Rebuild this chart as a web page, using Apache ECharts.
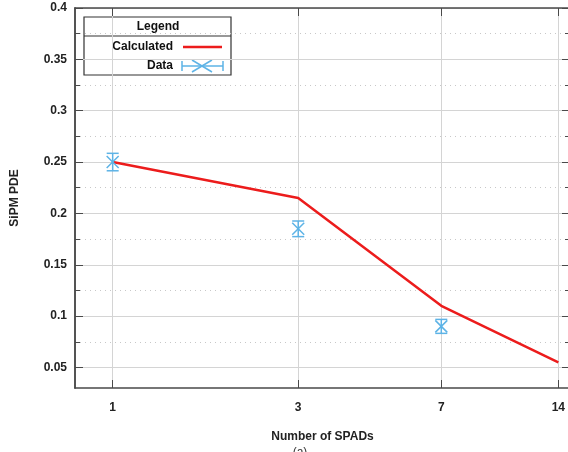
<!DOCTYPE html>
<html>
<head>
<meta charset="utf-8">
<script src="https://cdn.jsdelivr.net/npm/echarts@6/dist/echarts.min.js"></script>
<style>
  html, body { margin: 0; padding: 0; background: #fff; }
  #chart { width: 568px; height: 452px; }
</style>
</head>
<body>
<div id="chart"></div>
<script>
// values
const spads = [1, 3, 7, 14]
const calculated = [0.25, 0.215, 0.11, 0.055]
const dataX = [1, 3, 7]
const dataY = [0.25, 0.185, 0.09]
const dataErr = [0.0085, 0.0076, 0.0068]
const yMajorTicks = [0.05, 0.1, 0.15, 0.2, 0.25, 0.3, 0.35, 0.4]
const yMinorTicks = [0.075, 0.125, 0.175, 0.225, 0.275, 0.325, 0.375]

const red = '#ec1c1c'
const blue = '#5db3e6'
const axisColor = '#4a4a4a'
const gridColor = '#d4d4d4'
const font = 'Liberation Sans, Arial, sans-serif'

const chart = echarts.init(document.getElementById('chart'))

function yAxisItem(position, ticks, major) {
  return {
    type: 'value',
    position: position,
    min: 0.03,
    max: 0.4,
    axisLine: { show: true, lineStyle: { color: axisColor, width: 1.5 } },
    axisTick: {
      show: true,
      inside: true,
      length: major ? 8 : 5,
      customValues: ticks,
      lineStyle: { color: axisColor }
    },
    axisLabel: {
      show: major && position === 'left',
      customValues: ticks,
      margin: 8,
      color: '#222',
      fontWeight: 'bold',
      fontSize: 12,
      fontFamily: font
    },
    splitLine: {
      show: position === 'left',
      lineStyle: major
        ? { color: gridColor, width: 1 }
        : { color: '#c8c8c8', width: 1, type: [1, 4] }
    },
    name: major && position === 'left' ? 'SiPM PDE' : '',
    nameLocation: 'middle',
    nameGap: 54,
    nameTextStyle: { color: '#222', fontWeight: 'bold', fontSize: 12, fontFamily: font }
  }
}

function xAxisItem(position) {
  return {
    type: 'log',
    position: position,
    min: 0.8,
    max: 15,
    axisLine: { show: true, lineStyle: { color: axisColor, width: 1.5 } },
    axisTick: {
      show: true,
      inside: true,
      length: 8,
      customValues: spads,
      lineStyle: { color: axisColor }
    },
    axisLabel: {
      show: position === 'bottom',
      customValues: spads,
      margin: 14,
      color: '#222',
      fontWeight: 'bold',
      fontSize: 12,
      fontFamily: font
    },
    minorTick: { show: false },
    splitLine: {
      show: position === 'bottom',
      lineStyle: { color: gridColor, width: 1 }
    },
    name: position === 'bottom' ? 'Number of SPADs' : '',
    nameLocation: 'middle',
    nameGap: 43,
    nameTextStyle: { color: '#222', fontWeight: 'bold', fontSize: 12, fontFamily: font }
  }
}

function renderErrorBar(params, api) {
  const x = api.value(0)
  const y = api.value(1)
  const err = api.value(2)
  const c = api.coord([x, y])
  const top = api.coord([x, y + err])
  const bottom = api.coord([x, y - err])
  const w = 6
  const style = { stroke: blue, lineWidth: 1.5 }
  return {
    type: 'group',
    children: [
      { type: 'line', shape: { x1: c[0], y1: top[1], x2: c[0], y2: bottom[1] }, style: style },
      { type: 'line', shape: { x1: c[0] - w, y1: top[1], x2: c[0] + w, y2: top[1] }, style: style },
      { type: 'line', shape: { x1: c[0] - w, y1: bottom[1], x2: c[0] + w, y2: bottom[1] }, style: style },
      { type: 'line', shape: { x1: c[0] - w, y1: c[1] - w, x2: c[0] + w, y2: c[1] + w }, style: style },
      { type: 'line', shape: { x1: c[0] - w, y1: c[1] + w, x2: c[0] + w, y2: c[1] - w }, style: style }
    ]
  }
}

const lx = 84, ly = 17
const textStyle = { fill: '#111', font: 'bold 12px ' + font }

chart.setOption({
  animation: false,
  grid: { left: 75, top: 8, right: -2, bottom: 64, outerBoundsMode: 'none' },
  xAxis: [xAxisItem('bottom'), xAxisItem('top')],
  yAxis: [
    yAxisItem('left', yMajorTicks, true),
    yAxisItem('left', yMinorTicks, false),
    yAxisItem('right', yMajorTicks, true),
    yAxisItem('right', yMinorTicks, false)
  ],
  series: [
    {
      name: 'Calculated',
      type: 'line',
      data: spads.map((s, i) => [s, calculated[i]]),
      showSymbol: false,
      lineStyle: { color: red, width: 2.5 },
      z: 3
    },
    {
      name: 'Data',
      type: 'custom',
      data: dataX.map((s, i) => [s, dataY[i], dataErr[i]]),
      renderItem: renderErrorBar,
      z: 4
    }
  ],
  graphic: [
    {
      type: 'group',
      z: 100,
      children: [
        { type: 'rect', shape: { x: lx, y: ly, width: 147, height: 58 }, style: { fill: '#fff', stroke: '#333', lineWidth: 1.2 } },
        { type: 'line', shape: { x1: lx, y1: ly + 19, x2: lx + 147, y2: ly + 19 }, style: { stroke: '#333', lineWidth: 1.2 } },
        { type: 'text', x: 158, y: 27, style: Object.assign({ text: 'Legend', align: 'center', verticalAlign: 'middle' }, textStyle) },
        { type: 'text', x: 173, y: 47, style: Object.assign({ text: 'Calculated', align: 'right', verticalAlign: 'middle' }, textStyle) },
        { type: 'line', shape: { x1: 183, y1: 47, x2: 222, y2: 47 }, style: { stroke: red, lineWidth: 2.5 } },
        { type: 'text', x: 173, y: 66, style: Object.assign({ text: 'Data', align: 'right', verticalAlign: 'middle' }, textStyle) },
        { type: 'line', shape: { x1: 182, y1: 66, x2: 223, y2: 66 }, style: { stroke: blue, lineWidth: 1.5 } },
        { type: 'line', shape: { x1: 182, y1: 61, x2: 182, y2: 71 }, style: { stroke: blue, lineWidth: 1.5 } },
        { type: 'line', shape: { x1: 223, y1: 61, x2: 223, y2: 71 }, style: { stroke: blue, lineWidth: 1.5 } },
        { type: 'line', shape: { x1: 192, y1: 60, x2: 212, y2: 72 }, style: { stroke: blue, lineWidth: 1.5 } },
        { type: 'line', shape: { x1: 192, y1: 72, x2: 212, y2: 60 }, style: { stroke: blue, lineWidth: 1.5 } }
      ]
    },
    { type: 'text', x: 300, y: 447, style: { text: '(a)', align: 'center', verticalAlign: 'top', fill: '#333', font: '12px ' + font } }
  ]
})
</script>
</body>
</html>
